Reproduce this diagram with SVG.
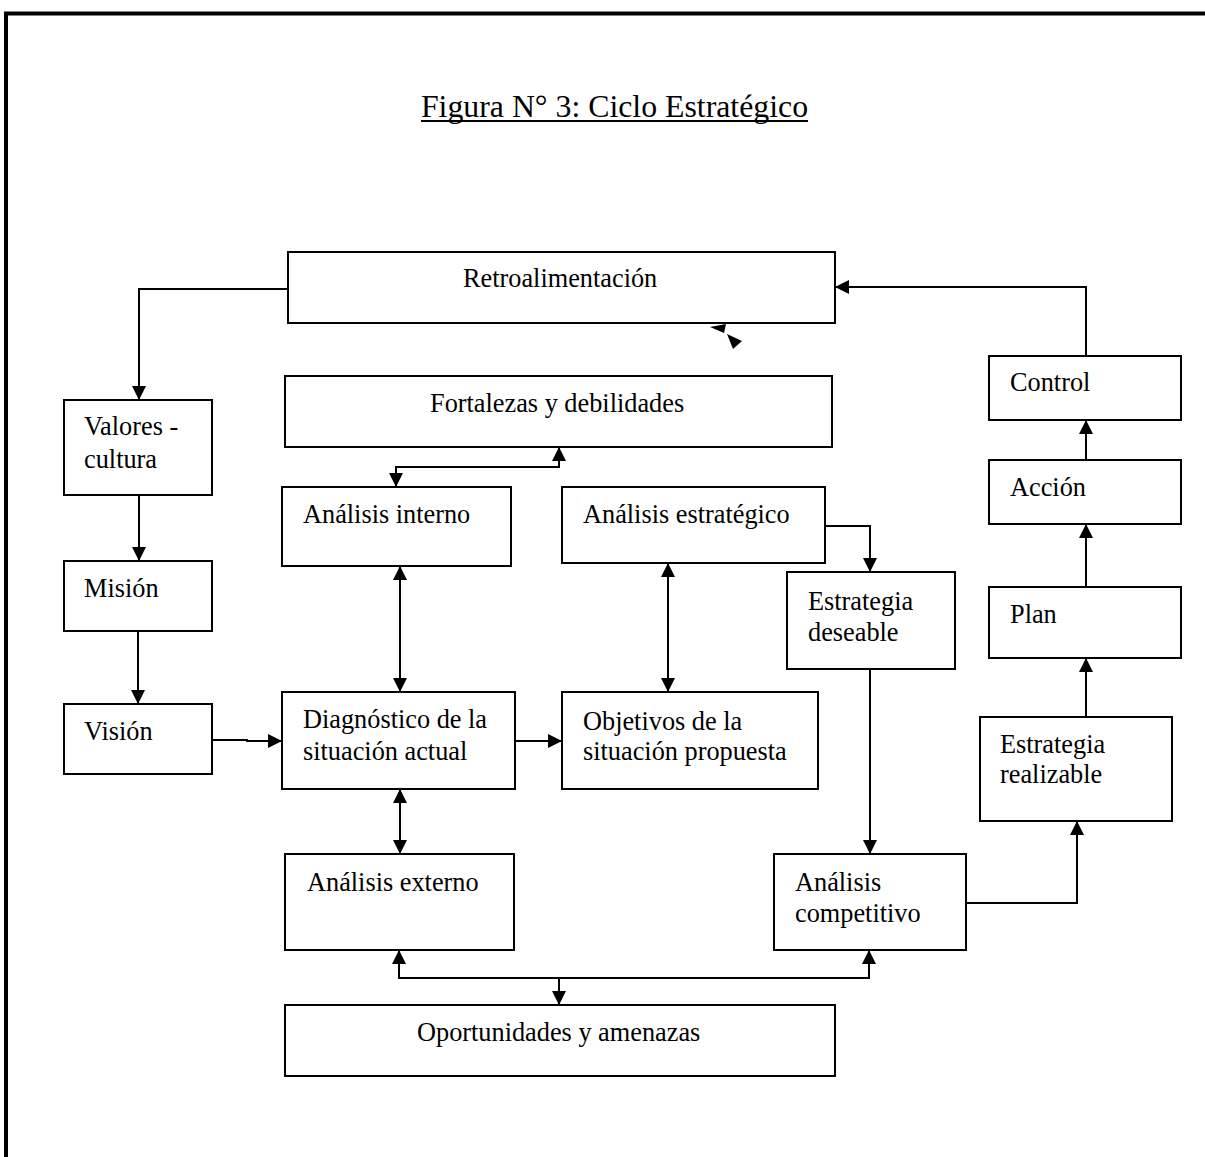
<svg xmlns="http://www.w3.org/2000/svg" width="1205" height="1157" viewBox="0 0 1205 1157">
<style>
.box{fill:#fff;stroke:#000;stroke-width:2}
.t{font-family:"Liberation Serif","Times New Roman",serif;font-size:26.3px;fill:#000}
.c{fill:none;stroke:#000;stroke-width:2}
</style>
<defs>
<marker id="a" viewBox="0 0 14 14" refX="14" refY="7" markerWidth="14" markerHeight="14" markerUnits="userSpaceOnUse" orient="auto-start-reverse">
<path d="M0,0 L14,7 L0,14 z" fill="#000"/>
</marker>
</defs>
<rect width="1205" height="1157" fill="#fff"/>
<g id="border">
<line x1="4" y1="13.5" x2="1205" y2="13.5" stroke="#000" stroke-width="4"/>
<line x1="6" y1="12" x2="6" y2="1157" stroke="#000" stroke-width="4"/>
</g>
<g id="title">
<text x="614.5" y="117" text-anchor="middle" font-family="Liberation Serif,serif" font-size="31.8">Figura N° 3: Ciclo Estratégico</text>
<line x1="421" y1="121" x2="808" y2="121" stroke="#000" stroke-width="2"/>
</g>
<g id="connectors">
<path class="c" d="M288,289 H139 V400" marker-end="url(#a)"/>
<path class="c" d="M139,495 V561" marker-end="url(#a)"/>
<path class="c" d="M138,631 V704" marker-end="url(#a)"/>
<path class="c" d="M212,740 H247 V741 H282" marker-end="url(#a)"/>
<path class="c" d="M515,741 H562" marker-end="url(#a)"/>
<path class="c" d="M559,447 V467 H396 V487" marker-start="url(#a)" marker-end="url(#a)"/>
<path class="c" d="M400,566 V692" marker-start="url(#a)" marker-end="url(#a)"/>
<path class="c" d="M668,563 V692" marker-start="url(#a)" marker-end="url(#a)"/>
<path class="c" d="M825,526 H870 V572" marker-end="url(#a)"/>
<path class="c" d="M870,669 V854" marker-end="url(#a)"/>
<path class="c" d="M400,789 V854" marker-start="url(#a)" marker-end="url(#a)"/>
<path class="c" d="M399,950 V978 H869 V950" marker-start="url(#a)" marker-end="url(#a)"/>
<path class="c" d="M559,978 V1005" marker-end="url(#a)"/>
<path class="c" d="M966,903 H1077 V821" marker-end="url(#a)"/>
<path class="c" d="M1086,717 V658" marker-end="url(#a)"/>
<path class="c" d="M1086,587 V524" marker-end="url(#a)"/>
<path class="c" d="M1086,460 V420" marker-end="url(#a)"/>
<path class="c" d="M1086,356 V287 H835" marker-end="url(#a)"/>
<polygon points="710,327 726,324 724,333" fill="#000"/>
<polygon points="727,334 742,341 733,349" fill="#000"/>
</g>
<g id="retro"><rect class="box" x="288" y="252" width="547" height="71"/><text class="t" x="463" y="287">Retroalimentación</text></g>
<g id="valores"><rect class="box" x="64" y="400" width="148" height="95"/><text class="t" x="84" y="435">Valores -</text><text class="t" x="84" y="468">cultura</text></g>
<g id="mision"><rect class="box" x="64" y="561" width="148" height="70"/><text class="t" x="84" y="597">Misión</text></g>
<g id="vision"><rect class="box" x="64" y="704" width="148" height="70"/><text class="t" x="84" y="740">Visión</text></g>
<g id="fortalezas"><rect class="box" x="285" y="376" width="547" height="71"/><text class="t" x="430" y="412">Fortalezas y debilidades</text></g>
<g id="interno"><rect class="box" x="282" y="487" width="229" height="79"/><text class="t" x="303" y="523">Análisis interno</text></g>
<g id="estrategico"><rect class="box" x="562" y="487" width="263" height="76"/><text class="t" x="583" y="523">Análisis estratégico</text></g>
<g id="deseable"><rect class="box" x="787" y="572" width="168" height="97"/><text class="t" x="808" y="610">Estrategia</text><text class="t" x="808" y="641">deseable</text></g>
<g id="diagnostico"><rect class="box" x="282" y="692" width="233" height="97"/><text class="t" x="303" y="728">Diagnóstico de la</text><text class="t" x="303" y="760">situación actual</text></g>
<g id="objetivos"><rect class="box" x="562" y="692" width="256" height="97"/><text class="t" x="583" y="730">Objetivos de la</text><text class="t" x="583" y="760">situación propuesta</text></g>
<g id="externo"><rect class="box" x="285" y="854" width="229" height="96"/><text class="t" x="307" y="891">Análisis externo</text></g>
<g id="competitivo"><rect class="box" x="774" y="854" width="192" height="96"/><text class="t" x="795" y="891">Análisis</text><text class="t" x="795" y="922">competitivo</text></g>
<g id="oportunidades"><rect class="box" x="285" y="1005" width="550" height="71"/><text class="t" x="417" y="1041">Oportunidades y amenazas</text></g>
<g id="control"><rect class="box" x="989" y="356" width="192" height="64"/><text class="t" x="1010" y="391">Control</text></g>
<g id="accion"><rect class="box" x="989" y="460" width="192" height="64"/><text class="t" x="1010" y="496">Acción</text></g>
<g id="plan"><rect class="box" x="989" y="587" width="192" height="71"/><text class="t" x="1010" y="623">Plan</text></g>
<g id="realizable"><rect class="box" x="980" y="717" width="192" height="104"/><text class="t" x="1000" y="753">Estrategia</text><text class="t" x="1000" y="783">realizable</text></g>
</svg>
